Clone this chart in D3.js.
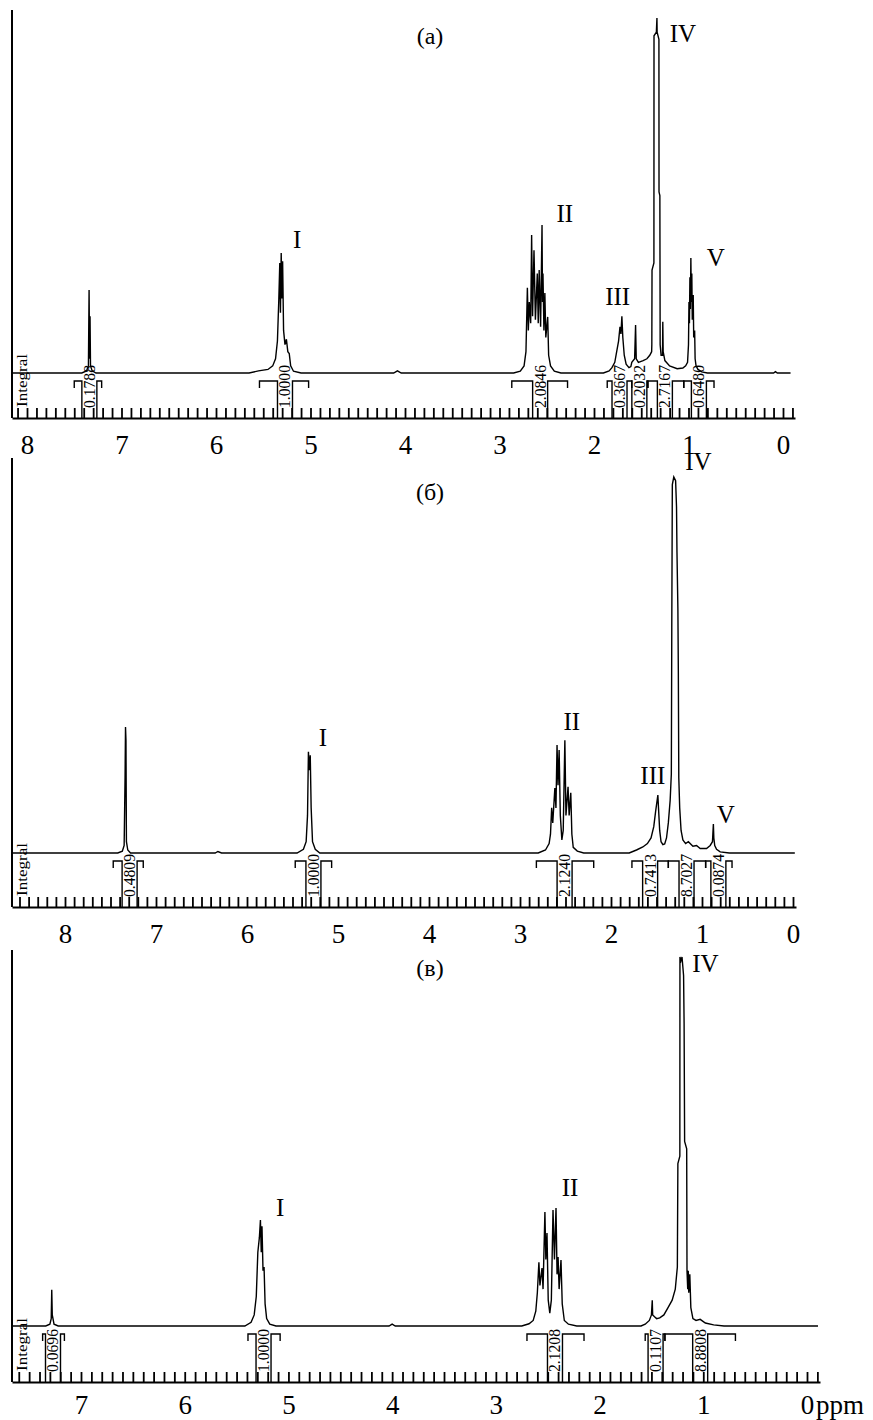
<!DOCTYPE html>
<html>
<head>
<meta charset="utf-8">
<script src="https://cdn.jsdelivr.net/npm/d3@7"></script>
<style>
  body { margin: 0; background: #fff; }
  svg { display: block; }
  text { font-family: "Liberation Serif", "Times New Roman", serif; fill: #000; }
</style>
</head>
<body>
<svg id="chart" width="873" height="1420"></svg>
<script>
// ---- data: [ppm, intensity in % of peak IV] ----
const titles = ["(а)", "(б)", "(в)"];

const tickLabelsA = [8, 7, 6, 5, 4, 3, 2, 1, 0];
const tickLabelsB = [8, 7, 6, 5, 4, 3, 2, 1, 0];
const tickLabelsC = [7, 6, 5, 4, 3, 2, 1, 0];

const spectrumA = [
  [8.16,0],[7.42,0],[7.37,0.6],[7.35,2],[7.343,23.4],[7.338,4],[7.333,16],[7.328,2],[7.31,0.6],[7.27,0],
  [5.65,0],[5.55,0.6],[5.45,1],[5.40,2],[5.37,4],[5.35,9],[5.335,21],[5.325,31],[5.318,17],[5.31,33.8],
  [5.302,21],[5.295,31.5],[5.285,12],[5.27,8],[5.255,9.5],[5.24,6],[5.225,5.5],[5.21,2],[5.18,0.5],[5.10,0],
  [4.12,0],[4.08,0.6],[4.04,0],
  [2.85,0],[2.78,0.5],[2.74,2],[2.72,6],[2.705,24],[2.695,12],[2.685,20],[2.67,14],[2.66,38.9],[2.65,16],
  [2.635,34.6],[2.62,15],[2.60,28],[2.59,14],[2.58,29],[2.565,13],[2.55,41.7],[2.545,20],[2.54,28],
  [2.53,12],[2.52,22.5],[2.51,10],[2.49,15.8],[2.48,5],[2.46,2],[2.42,0.5],[2.35,0],
  [1.90,0],[1.84,0.6],[1.81,1.5],[1.78,3],[1.76,6],[1.74,9],[1.725,13],[1.715,11],[1.705,16],[1.695,10],
  [1.68,5],[1.66,2.5],[1.63,1.5],[1.61,1.8],[1.60,3],[1.57,4],[1.56,13.5],[1.553,4],[1.53,3],[1.48,3.5],
  [1.44,4],[1.41,5],[1.39,6],[1.388,8],[1.386,29],[1.366,31],[1.365,95],[1.34,96],[1.334,100],[1.332,96],
  [1.313,94],[1.312,51],[1.303,50],[1.30,8],[1.29,5],[1.275,5],[1.272,14.4],[1.268,6],[1.25,3.5],[1.20,2],
  [1.12,1.2],[1.06,1.4],[1.03,2],[1.01,3],[1.0,8],[0.995,20],[0.99,14],[0.985,27],[0.98,18],[0.975,32.4],
  [0.97,20],[0.965,28],[0.96,15],[0.95,22],[0.945,10],[0.935,12],[0.93,4],[0.92,2],[0.90,1],[0.86,0.3],
  [0.80,0],[0.10,0],[0.08,0.4],[0.06,0],[-0.08,0]
];

const spectrumB = [
  [8.58,0],[7.42,0],[7.37,0.5],[7.35,2],[7.34,20],[7.335,33.5],[7.33,30],[7.325,3],[7.31,0.8],[7.28,0],
  [6.35,0],[6.32,0.4],[6.28,0],
  [5.45,0],[5.38,1],[5.35,3],[5.335,10],[5.325,26.9],[5.315,22],[5.305,26],[5.295,12],[5.28,3],[5.25,1],[5.20,0],
  [2.80,0],[2.72,0.8],[2.68,2.5],[2.665,5],[2.652,12],[2.64,8],[2.617,17.3],[2.605,12],[2.593,28.7],
  [2.582,18],[2.57,27.4],[2.557,10],[2.54,3.5],[2.525,6],[2.507,30],[2.495,10],[2.472,17.6],[2.46,10],
  [2.442,16],[2.43,5],[2.415,1.5],[2.37,0.5],[2.30,0],
  [1.80,0],[1.72,0.8],[1.65,1.6],[1.60,2.5],[1.56,4],[1.53,7],[1.51,11],[1.485,15.4],[1.478,12],[1.465,6],
  [1.45,3],[1.43,2.2],[1.41,2.4],[1.39,4],[1.37,8],[1.35,14],[1.337,21],[1.332,60],[1.326,98],[1.31,100],
  [1.29,99],[1.28,92],[1.275,80],[1.265,65],[1.26,48],[1.255,20],[1.245,12],[1.23,6],[1.21,3.5],[1.18,2.5],
  [1.15,3],[1.10,1.8],[1.06,2],[1.02,1.2],[0.95,1.2],[0.91,2],[0.885,3],[0.875,7.7],[0.87,4],[0.86,2],
  [0.84,1],[0.80,0.3],[0.70,0],[-0.02,0]
];

const spectrumC = [
  [7.67,0],[7.34,0],[7.30,0.5],[7.287,2],[7.282,9.8],[7.277,3],[7.26,0.5],[7.22,0],
  [5.42,0],[5.36,1],[5.33,3],[5.31,8],[5.295,20],[5.28,24],[5.27,28.7],[5.262,20],[5.255,27],[5.245,15],
  [5.235,16],[5.225,6],[5.21,2],[5.18,0.5],[5.12,0],
  [4.03,0],[4.0,0.5],[3.97,0],
  [2.75,0],[2.68,0.6],[2.64,1.5],[2.615,4],[2.60,9],[2.585,17.3],[2.575,11],[2.555,15.7],[2.545,10],
  [2.527,30.9],[2.518,18],[2.507,25.2],[2.495,7],[2.48,3.5],[2.465,7],[2.449,31.4],[2.435,18],[2.42,32],
  [2.41,14],[2.40,18.7],[2.39,10],[2.372,17.9],[2.36,6],[2.34,1.5],[2.30,0.5],[2.22,0],
  [1.60,0],[1.56,0.5],[1.52,1.5],[1.50,3],[1.492,7],[1.488,3],[1.47,2.5],[1.45,2],[1.42,2.2],[1.38,3],
  [1.34,5],[1.30,7],[1.27,10],[1.25,16],[1.245,44],[1.226,46],[1.225,100],[1.215,99],[1.205,100],[1.19,95],
  [1.185,82],[1.18,50],[1.16,48],[1.157,15],[1.15,10],[1.145,15],[1.14,9],[1.13,14],[1.12,5],[1.10,2],
  [1.07,1.5],[1.03,1.8],[0.98,0.8],[0.90,0.3],[0.80,0],[-0.106,0]
];

// integrals: [from ppm, to ppm, label position ppm, value]
const integralsA = [
  [7.50, 7.21, 7.34, "0.1788"],
  [5.54, 5.02, 5.27, "1.0000"],
  [2.87, 2.28, 2.57, "2.0846"],
  [1.86, 1.60, 1.73, "0.3667"],
  [1.60, 1.43, 1.52, "0.2032"],
  [1.43, 1.05, 1.25, "2.7167"],
  [1.05, 0.73, 0.89, "0.6480"]
];
const integralsB = [
  [7.47, 7.14, 7.29, "0.4809"],
  [5.47, 5.07, 5.27, "1.0000"],
  [2.82, 2.19, 2.51, "2.1240"],
  [1.77, 1.37, 1.57, "0.7413"],
  [1.37, 0.96, 1.17, "8.7027"],
  [0.96, 0.67, 0.82, "0.0874"]
];
const integralsC = [
  [7.37, 7.16, 7.27, "0.0696"],
  [5.39, 5.08, 5.24, "1.0000"],
  [2.70, 2.15, 2.43, "2.1208"],
  [1.56, 1.37, 1.46, "0.1107"],
  [1.37, 0.69, 1.03, "8.8808"]
];

// peak group labels: [name, ppm, intensity]
const peakLabelsA = [["I", 5.14, 35.2], ["II", 2.31, 42.5], ["III", 1.75, 19.2], ["IV", 1.06, 93.2], ["V", 0.71, 30.1]];
const peakLabelsB = [["I", 5.165, 28.5], ["II", 2.43, 32.7], ["III", 1.54, 18.4], ["IV", 1.04, 101.9], ["V", 0.74, 8.0]];
const peakLabelsC = [["I", 5.08, 29.8], ["II", 2.285, 35.2], ["IV", 0.98, 95.9]];

// ---- layout ----
const panels = [
  { spec: spectrumA, integ: integralsA, peaks: peakLabelsA, ticks: tickLabelsA, title: titles[0],
    hi: 8, xHi: 27, x0: 783, left: 12, right: 795, top: 10, base: 373, ruler: 418, full: 355, titleY: 44, lab: 17 },
  { spec: spectrumB, integ: integralsB, peaks: peakLabelsB, ticks: tickLabelsB, title: titles[1],
    hi: 8, xHi: 65, x0: 793, left: 12, right: 796, top: 458, base: 853, ruler: 907, full: 376, titleY: 500, lab: 17 },
  { spec: spectrumC, integ: integralsC, peaks: peakLabelsC, ticks: tickLabelsC, title: titles[2],
    hi: 7, xHi: 81, x0: 807, left: 12, right: 820, top: 950, base: 1326, ruler: 1382, full: 369, titleY: 976, lab: 13, unit: "ppm" }
];

const svg = d3.select("#chart");

panels.forEach(function (p) {
  const g = svg.append("g");

  const xr = d3.scaleLinear().domain([p.hi, 0]).range([p.xHi, p.x0]);
  const x = d3.scaleLinear().domain([xr.invert(p.left), xr.invert(p.right)]).range([p.left, p.right]);
  const y = d3.scaleLinear().domain([0, 100]).range([p.base, p.base - p.full]);

  // left frame line
  g.append("line")
    .attr("x1", p.left).attr("x2", p.left)
    .attr("y1", p.top).attr("y2", p.ruler)
    .attr("stroke", "#000").attr("stroke-width", 2);

  // spectrum
  const line = d3.line().x(d => x(d[0])).y(d => y(d[1]));
  g.append("path")
    .datum(p.spec)
    .attr("d", line)
    .attr("fill", "none")
    .attr("stroke", "#000")
    .attr("stroke-width", 1.4);

  // integral ruler with 0.1 ppm ticks
  const dom = x.domain();
  const minor = d3.range(Math.ceil(dom[1] * 10), Math.floor(dom[0] * 10) + 1)
    .map(k => k / 10)
    .filter(v => x(v) > p.left + 3);
  const ruler = g.append("g")
    .attr("transform", `translate(0,${p.ruler})`)
    .call(d3.axisTop(x).tickValues(minor).tickSize(10).tickSizeOuter(0).tickFormat(""));
  ruler.select(".domain").attr("stroke-width", 2.2);
  ruler.selectAll(".tick line").attr("stroke-width", 1.8);

  // ppm labels
  const lab = g.append("g")
    .attr("transform", `translate(0,${p.ruler})`)
    .call(d3.axisBottom(x).tickValues(p.ticks).tickSize(0).tickPadding(p.lab).tickFormat(d3.format("d")));
  lab.select(".domain").remove();
  lab.selectAll("text")
    .attr("font-family", "'Liberation Serif', 'Times New Roman', serif")
    .attr("font-size", 27);
  if (p.unit) {
    g.append("text")
      .attr("x", x(0) + 9).attr("y", p.ruler + p.lab + 19)
      .attr("font-size", 27)
      .text(p.unit);
  }

  // "Integral" caption
  g.append("text")
    .attr("transform", `translate(${p.left + 15},${p.ruler - 11}) rotate(-90)`)
    .attr("font-size", 15)
    .attr("textLength", 53)
    .attr("lengthAdjust", "spacingAndGlyphs")
    .text("Integral");

  // integral brackets
  const yb = p.base + 8, w = 7.5;
  p.integ.forEach(function (d) {
    const xa = x(d[0]), xb = x(d[1]), xc = x(d[2]);
    g.append("path")
      .attr("d", `M${xa},${yb + 7}V${yb}H${xc - w}V${p.ruler}M${xb},${yb + 7}V${yb}H${xc + w}V${p.ruler}`)
      .attr("fill", "none")
      .attr("stroke", "#000")
      .attr("stroke-width", 1.4);
    g.append("text")
      .attr("transform", `translate(${xc + 5.5},${p.ruler - 10}) rotate(-90)`)
      .attr("font-size", 16)
      .attr("textLength", 43)
      .attr("lengthAdjust", "spacingAndGlyphs")
      .text(d[3]);
  });

  // peak group labels
  g.selectAll(".peak")
    .data(p.peaks)
    .enter().append("text")
    .attr("class", "peak")
    .attr("x", d => x(d[1]))
    .attr("y", d => y(d[2]))
    .attr("text-anchor", "middle")
    .attr("font-size", 25)
    .text(d => d[0]);

  // panel title
  g.append("text")
    .attr("x", 430).attr("y", p.titleY)
    .attr("text-anchor", "middle")
    .attr("font-size", 24)
    .text(p.title);
});
</script>
</body>
</html>
